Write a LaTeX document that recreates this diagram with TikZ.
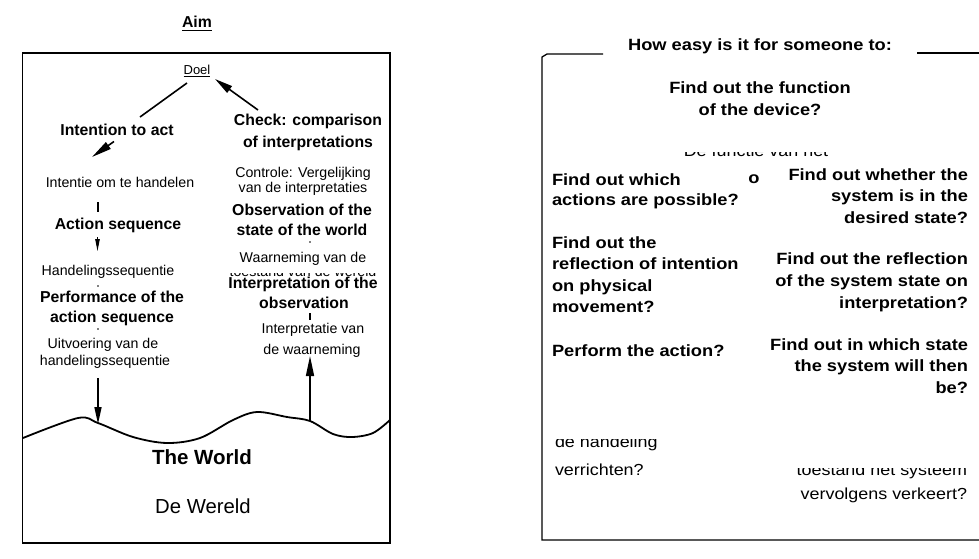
\documentclass[tikz,border=0pt]{standalone}
\usepackage{fontspec}
\setmainfont{Liberation Sans}
\newfontfamily\widesans[FakeStretch=1.12]{Liberation Sans}
\usetikzlibrary{arrows.meta}
\begin{document}
\begin{tikzpicture}[x=1pt,y=-1pt,
  txt/.style={inner sep=0pt, outer sep=0pt},
  lb/.style={txt, font=\fontsize{15.8}{19}\selectfont\bfseries},
  lr/.style={txt, font=\fontsize{14.2}{17}\selectfont},
  rb/.style={txt, font=\widesans\fontsize{16.3}{20}\selectfont\bfseries},
  rr/.style={txt, font=\widesans\fontsize{16}{20}\selectfont},
  frame/.style={line width=1.3pt},
  conn/.style={line width=1.6pt},
  arr/.style={conn, -{Triangle[length=17pt,width=7pt]}},
  wave/.style={line width=1.8pt},
]
\useasboundingbox (0,0) rectangle (979,558);

% ---------------- left panel: the action cycle ----------------
\node[lb, anchor=base] (aim) at (197,27.7) {Aim};
\draw[line width=1pt] ([yshift=-3pt]aim.base west) -- ([yshift=-3pt]aim.base east);

\draw[frame] (22.7,53) rectangle (390,543);

\node[lr, font=\fontsize{13}{15}\selectfont, anchor=base] (doel) at (197,74) {Doel};
\draw[line width=0.9pt] ([yshift=-2.5pt]doel.base west) -- ([yshift=-2.5pt]doel.base east);

% left branch
\node[lb, anchor=base] (intent) at (117,135) {Intention to act};
\node[lr, anchor=base] (intentie) at (120,187) {Intentie om te handelen};
\node[lb, anchor=base] (actseq) at (118,229) {Action sequence};
\node[lr, anchor=base] (handseq) at (108,275) {Handelingssequentie};
\node[lb, anchor=base] (perf1) at (112,302) {Performance of the};
\node[lb, anchor=base] (perf2) at (112,322) {action sequence};
\node[lr, anchor=base] (uitv1) at (103,348) {Uitvoering van de};
\node[lr, anchor=base] (uitv2) at (105,365) {handelingssequentie};

% right branch
\node[lb, anchor=base] (check1) at (308,125) {Check: comparison};
\node[lb, anchor=base] (check2) at (308,147) {of interpretations};
\node[lr, anchor=base] (ctrl1) at (303,177) {Controle: Vergelijking};
\node[lr, anchor=base] (ctrl2) at (303,192) {van de interpretaties};
\node[lb, anchor=base] (obs1) at (302,215) {Observation of the};
\node[lb, anchor=base] (obs2) at (302,235) {state of the world};
\node[lr, anchor=base] (waar1) at (303,262) {Waarneming van de};
\begin{scope}
  \clip (220,273.2) rectangle (390,276.6);
  \node[lr, anchor=base] (waar2) at (303,276.5) {toestand van de wereld};
\end{scope}
\node[lb, anchor=base] (interp1) at (303,288) {Interpretation of the};
\node[lb, anchor=base] (interp2) at (304,308) {observation};
\node[lr, anchor=base] (intp1) at (313,333) {Interpretatie van};
\node[lr, anchor=base] (intp2) at (312,354) {de waarneming};

% the world
\draw[wave] plot[smooth, tension=0.55] coordinates
  {(23,438) (78,418) (98,423) (133,437) (167,443) (200,438) (233,420) (257,412)
   (287,417) (310,421) (333,434) (352,437) (373,433) (390,420)};
\node[lb, font=\fontsize{20.5}{24}\selectfont\bfseries, anchor=base] (world) at (202,464) {The World};
\node[lr, font=\fontsize{20.3}{24}\selectfont, anchor=base] (wereld) at (203,513) {De Wereld};

% connectors of the cycle
\coordinate (g1) at (187,83);
\coordinate (g2) at (140,117);
\coordinate (h1) at (114,141.5);
\coordinate (h2) at (92,157);
\draw[conn] (g1) -- (g2);
\draw[conn, -{Triangle[length=20pt,width=8pt]}] (h1) -- (h2);

\coordinate (c1) at (258,110);
\coordinate (c2) at (215,79);
\draw[conn, -{Triangle[length=18pt,width=8pt]}] (c1) -- (c2);

\coordinate (s1) at (98,202);
\coordinate (s2) at (98,212);
\draw[conn] (s1) -- (s2);
\coordinate (t1) at (97.5,237);
\coordinate (t2) at (97.5,251);
\draw[line width=1pt, -{Triangle[length=12pt,width=4.5pt]}] (t1) -- (t2);
\fill (98,286) circle (0.9pt);
\fill (98,329) circle (0.9pt);

\coordinate (d1) at (98,378);
\coordinate (d2) at (98,424);
\draw[arr] (d1) -- (d2);

\fill (310,242) circle (0.9pt);
\coordinate (v1) at (310,313);
\coordinate (v2) at (310,320);
\draw[conn] (v1) -- (v2);

\coordinate (u1) at (310,421);
\coordinate (u2) at (310,356);
\draw[arr, -{Triangle[length=20pt,width=8pt]}] (u1) -- (u2);

% ---------------- right panel: questions ----------------
\draw[line width=1.6pt] (917,53) -- (979,53);
\draw[frame] (603,54) -- (547,54) -- (542,57) -- (542,540) -- (979,540);
\node[rb, anchor=base] (hdr) at (760,50) {How easy is it for someone to:};

\node[rb, anchor=base] (fn1) at (760,93) {Find out the function};
\node[rb, anchor=base] (fn2) at (760,115) {of the device?};
\begin{scope}
  \clip (670,152.3) rectangle (850,156.3);
  \node[rr, anchor=base] (fnnl) at (756,156) {De functie van het};
\end{scope}
\node[rb, anchor=base] (frag) at (754,183) {o};

\foreach \t [count=\i] in {Find out which, actions are possible?}
  \node[rb, anchor=base west] (poss-\i) at (552,{185+20*(\i-1)}) {\t};
\foreach \t [count=\i] in {Find out whether the, system is in the, desired state?}
  \node[rb, anchor=base east] (state-\i) at (968,{180+21.5*(\i-1)}) {\t};
\foreach \t [count=\i] in {Find out the, reflection of intention, on physical, movement?}
  \node[rb, anchor=base west] (move-\i) at (552,{248+21.5*(\i-1)}) {\t};
\foreach \t [count=\i] in {Find out the reflection, of the system state on, interpretation?}
  \node[rb, anchor=base east] (refl-\i) at (968,{264+22*(\i-1)}) {\t};
\node[rb, anchor=base west] (perform) at (552,356) {Perform the action?};
\foreach \t [count=\i] in {Find out in which state, the system will then, be?}
  \node[rb, anchor=base east] (then-\i) at (968,{350+21.5*(\i-1)}) {\t};

\begin{scope}
  \clip (545,439.5) rectangle (700,452);
  \node[rr, anchor=base west] (hand1) at (555,447) {de handeling};
\end{scope}
\node[rr, anchor=base west] (hand2) at (555,475) {verrichten?};
\begin{scope}
  \clip (780,468.5) rectangle (975,480);
  \node[rr, anchor=base east] (toe1) at (967,475) {toestand het systeem};
\end{scope}
\node[rr, anchor=base east] (toe2) at (967,499) {vervolgens verkeert?};
\end{tikzpicture}
\end{document}
